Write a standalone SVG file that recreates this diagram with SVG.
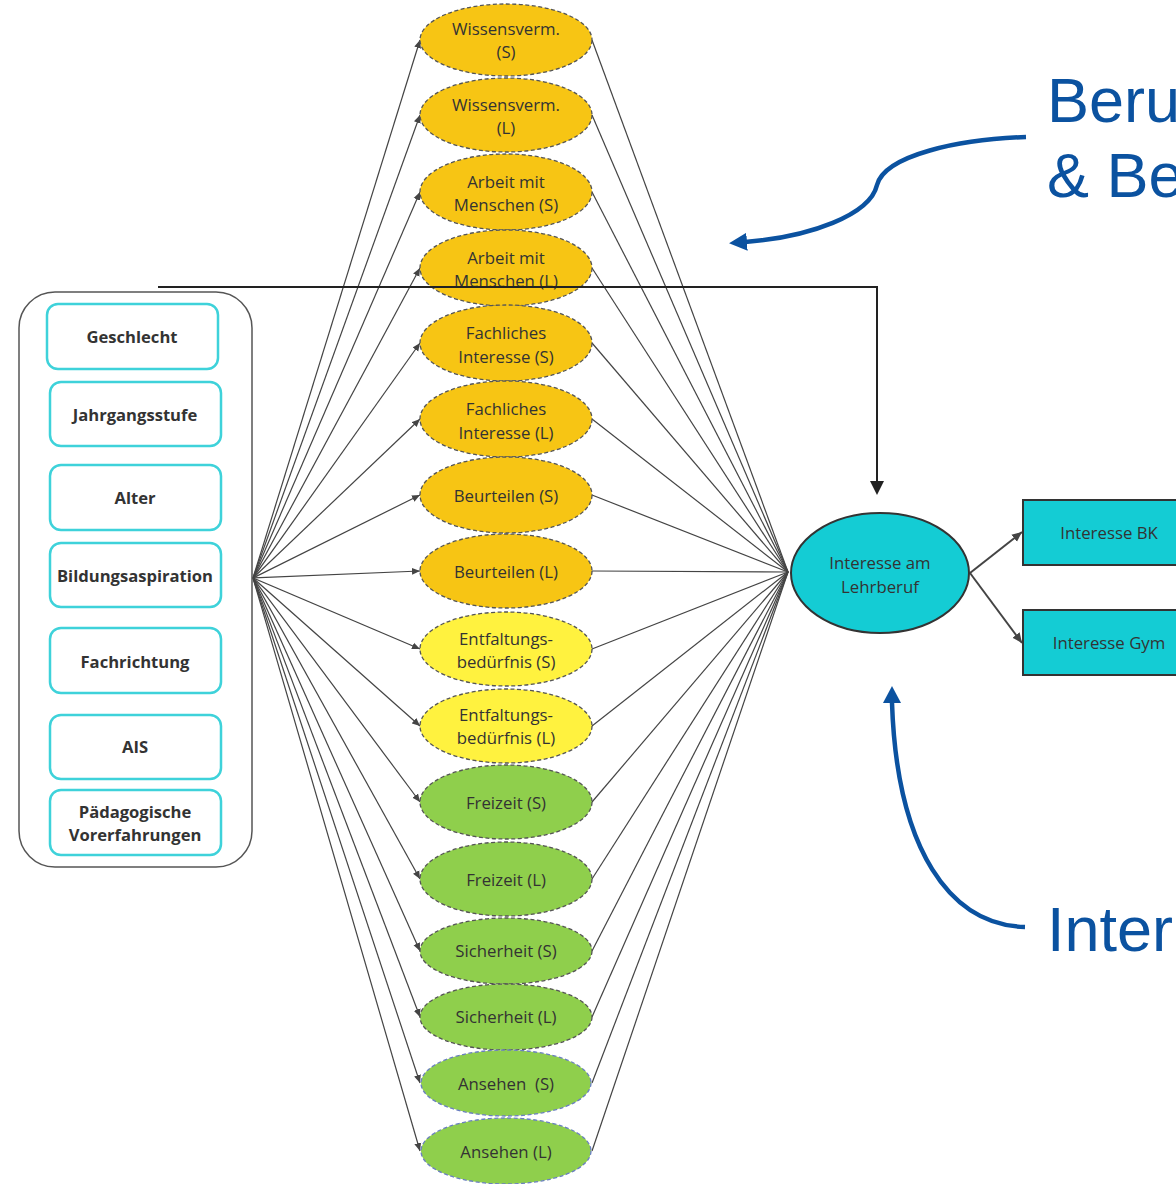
<svg xmlns="http://www.w3.org/2000/svg" width="1176" height="1184" viewBox="0 0 1176 1184">
<defs>
<marker id="ah" markerUnits="userSpaceOnUse" markerWidth="9" markerHeight="8" refX="8" refY="4" orient="auto"><path d="M0,0.5 L8,4 L0,7.5 z" fill="#444"/></marker>
<marker id="ah2" markerUnits="userSpaceOnUse" markerWidth="11" markerHeight="10" refX="10" refY="5" orient="auto"><path d="M0,0.5 L10,5 L0,9.5 z" fill="#444"/></marker>
<marker id="bh" markerUnits="userSpaceOnUse" markerWidth="20" markerHeight="20" refX="2" refY="9" orient="auto"><path d="M0,0 L18,9 L0,18 z" fill="#0B52A0"/></marker>
<style>
.oe{fill:#F7C514;stroke:#555;stroke-width:1.3;stroke-dasharray:4 2.5}
.ye{fill:#FFF23F;stroke:#555;stroke-width:1.3;stroke-dasharray:4 2.5}
.ge{fill:#8FCF4C;stroke:#555;stroke-width:1.3;stroke-dasharray:4 2.5}
.ge2{fill:#8FCF4C;stroke:#6A7FC0;stroke-width:1.3;stroke-dasharray:4 2.5}
.et{font-family:"Open Sans","Noto Sans",sans-serif;font-size:16.8px;fill:#333;text-anchor:middle}
.bt{font-family:"Open Sans","Noto Sans",sans-serif;font-size:16.6px;font-weight:700;fill:#333;text-anchor:middle}
.ib{fill:#fff;stroke:#3ED2DA;stroke-width:2.5}
.fan{stroke:#444;stroke-width:1.2;fill:none;marker-end:url(#ah)}
.con{stroke:#444;stroke-width:1.2;fill:none}
.bl{font-family:"Liberation Sans",Arial,sans-serif;font-size:63px;fill:#0B52A0}
.ba{stroke:#0B52A0;stroke-width:4.5;fill:none}
.tq{fill:#14CCD4;stroke:#333;stroke-width:2}
</style>
</defs>
<rect width="1176" height="1184" fill="#fff"/>

<g id="connectors">
<path class="fan" d="M253,578 L420,40"/>
<path class="fan" d="M253,578 L420,115"/>
<path class="fan" d="M253,578 L420,192"/>
<path class="fan" d="M253,578 L420,268"/>
<path class="fan" d="M253,578 L420,343"/>
<path class="fan" d="M253,578 L420,419"/>
<path class="fan" d="M253,578 L420,495"/>
<path class="fan" d="M253,578 L420,571"/>
<path class="fan" d="M253,578 L420,649"/>
<path class="fan" d="M253,578 L420,726"/>
<path class="fan" d="M253,578 L420,802"/>
<path class="fan" d="M253,578 L420,879"/>
<path class="fan" d="M253,578 L420,951"/>
<path class="fan" d="M253,578 L420,1017"/>
<path class="fan" d="M253,578 L420,1083"/>
<path class="fan" d="M253,578 L420,1151"/>
<path class="con" d="M592,40 L788,572"/>
<path class="con" d="M592,115 L788,572"/>
<path class="con" d="M592,192 L788,572"/>
<path class="con" d="M592,268 L788,572"/>
<path class="con" d="M592,343 L788,572"/>
<path class="con" d="M592,419 L788,572"/>
<path class="con" d="M592,495 L788,572"/>
<path class="con" d="M592,571 L788,572"/>
<path class="con" d="M592,649 L788,572"/>
<path class="con" d="M592,726 L788,572"/>
<path class="con" d="M592,802 L788,572"/>
<path class="con" d="M592,879 L788,572"/>
<path class="con" d="M592,951 L788,572"/>
<path class="con" d="M592,1017 L788,572"/>
<path class="con" d="M592,1083 L788,572"/>
<path class="con" d="M592,1151 L788,572"/>
<path d="M970,573 L1022,532" stroke="#444" stroke-width="2" fill="none" marker-end="url(#ah2)"/>
<path d="M970,573 L1022,643" stroke="#444" stroke-width="2" fill="none" marker-end="url(#ah2)"/>
</g>

<g id="left-group">
<rect x="19" y="292" width="233" height="575" rx="36" fill="#fff" stroke="#555" stroke-width="1.5"/>
<g id="n-geschlecht"><rect class="ib" x="47" y="304" width="171" height="65" rx="11"/><text class="bt" x="132" y="343">Geschlecht</text></g>
<g id="n-jahrgang"><rect class="ib" x="50" y="382" width="171" height="64" rx="11"/><text class="bt" x="135" y="421">Jahrgangsstufe</text></g>
<g id="n-alter"><rect class="ib" x="50" y="465" width="171" height="65" rx="11"/><text class="bt" x="135" y="504">Alter</text></g>
<g id="n-bildung"><rect class="ib" x="50" y="543" width="171" height="64" rx="11"/><text class="bt" x="135" y="582">Bildungsaspiration</text></g>
<g id="n-fach"><rect class="ib" x="50" y="628" width="171" height="65" rx="11"/><text class="bt" x="135" y="668">Fachrichtung</text></g>
<g id="n-ais"><rect class="ib" x="50" y="715" width="171" height="64" rx="11"/><text class="bt" x="135" y="753">AIS</text></g>
<g id="n-paed"><rect class="ib" x="50" y="790" width="171" height="65" rx="11"/><text class="bt" x="135" y="818">Pädagogische</text><text class="bt" x="135" y="841">Vorerfahrungen</text></g>
</g>

<g id="e1"><ellipse class="oe" cx="506" cy="40" rx="86" ry="36"/><text class="et" x="506" y="35">Wissensverm.</text><text class="et" x="506" y="58">(S)</text></g>
<g id="e2"><ellipse class="oe" cx="506" cy="115" rx="86" ry="37"/><text class="et" x="506" y="111">Wissensverm.</text><text class="et" x="506" y="134">(L)</text></g>
<g id="e3"><ellipse class="oe" cx="506" cy="192" rx="86" ry="38"/><text class="et" x="506" y="188">Arbeit mit</text><text class="et" x="506" y="211">Menschen (S)</text></g>
<g id="e4"><ellipse class="oe" cx="506" cy="268" rx="86" ry="38"/><text class="et" x="506" y="264">Arbeit mit</text><text class="et" x="506" y="287">Menschen (L)</text></g>
<g id="e5"><ellipse class="oe" cx="506" cy="343" rx="86" ry="38"/><text class="et" x="506" y="339">Fachliches</text><text class="et" x="506" y="363">Interesse (S)</text></g>
<g id="e6"><ellipse class="oe" cx="506" cy="419" rx="86" ry="38"/><text class="et" x="506" y="415">Fachliches</text><text class="et" x="506" y="439">Interesse (L)</text></g>
<g id="e7"><ellipse class="oe" cx="506" cy="495" rx="86" ry="38"/><text class="et" x="506" y="502">Beurteilen (S)</text></g>
<g id="e8"><ellipse class="oe" cx="506" cy="571" rx="86" ry="37"/><text class="et" x="506" y="578">Beurteilen (L)</text></g>
<g id="e9"><ellipse class="ye" cx="506" cy="649" rx="86" ry="37"/><text class="et" x="506" y="645">Entfaltungs-</text><text class="et" x="506" y="668">bedürfnis (S)</text></g>
<g id="e10"><ellipse class="ye" cx="506" cy="726" rx="86" ry="37"/><text class="et" x="506" y="721">Entfaltungs-</text><text class="et" x="506" y="744">bedürfnis (L)</text></g>
<g id="e11"><ellipse class="ge" cx="506" cy="802" rx="86" ry="37"/><text class="et" x="506" y="809">Freizeit (S)</text></g>
<g id="e12"><ellipse class="ge" cx="506" cy="879" rx="86" ry="37"/><text class="et" x="506" y="886">Freizeit (L)</text></g>
<g id="e13"><ellipse class="ge" cx="506" cy="951" rx="86" ry="33"/><text class="et" x="506" y="957">Sicherheit (S)</text></g>
<g id="e14"><ellipse class="ge" cx="506" cy="1017" rx="86" ry="33"/><text class="et" x="506" y="1023">Sicherheit (L)</text></g>
<g id="e15"><ellipse class="ge2" cx="506" cy="1083" rx="85" ry="33"/><text class="et" x="506" y="1090">Ansehen&#160; (S)</text></g>
<g id="e16"><ellipse class="ge2" cx="506" cy="1151" rx="85" ry="33"/><text class="et" x="506" y="1158">Ansehen (L)</text></g>

<g id="n-lehrberuf"><ellipse class="tq" cx="880" cy="573" rx="89" ry="60"/><text class="et" x="880" y="569">Interesse am</text><text class="et" x="880" y="593">Lehrberuf</text></g>
<g id="n-bk"><rect class="tq" x="1023" y="500" width="175" height="65"/><text class="et" x="1109" y="539">Interesse BK</text></g>
<g id="n-gym"><rect class="tq" x="1023" y="610" width="175" height="65"/><text class="et" x="1109" y="649">Interesse Gym</text></g>

<g id="black-connector">
<path d="M158,287 L877,287 L877,482" stroke="#222" stroke-width="2" fill="none"/>
<path d="M870,481 L884,481 L877,495 z" fill="#222"/>
</g>

<g id="annotations">
<path class="ba" d="M1026,137 C960,139 885,155 877,185 C870,215 810,237 745,242" marker-end="url(#bh)"/>
<path class="ba" d="M1025,927 C950,925 897,850 892,703"/>
<path d="M883,703 L892,686 L901,703 z" fill="#0B52A0"/>
<text class="bl" x="1047" y="122">Beru</text>
<text class="bl" x="1047" y="197">&amp; Be</text>
<text class="bl" x="1047" y="951">Inter</text>
</g>
</svg>
